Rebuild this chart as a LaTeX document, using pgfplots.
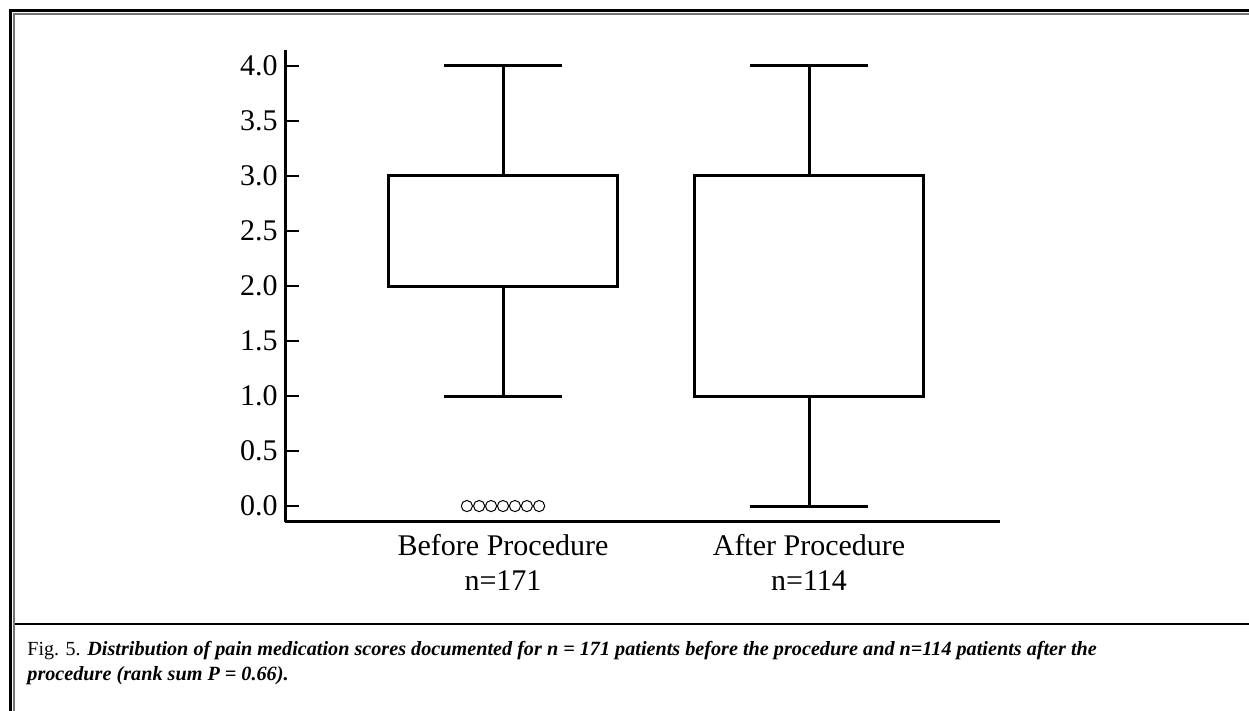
\documentclass[border=0pt]{standalone}
\usepackage{fontspec}
\setmainfont{Liberation Serif}
\usepackage{pgfplots}
\pgfplotsset{compat=1.18}
\usepgfplotslibrary{statistics}

% 1 px of the reference = 0.5pt
\begin{document}
\begin{tikzpicture}
\useasboundingbox (0,0) rectangle (624.5pt,-355.5pt);

% frame
\draw[black, line width=1.5pt] (5.25pt,-355.5pt) -- (5.25pt,-5.25pt) -- (624.5pt,-5.25pt);
\draw[black!55, line width=1pt] (6.9pt,-355.5pt) -- (6.9pt,-6.9pt) -- (624.5pt,-6.9pt);
\draw[black, line width=1.2pt] (7.4pt,-312pt) -- (624.5pt,-312pt);

\begin{axis}[
    at={(142.5pt,-261pt)}, anchor=south west,
    scale only axis,
    width=357.5pt, height=236pt,
    xmin=0.2876, xmax=2.624,
    ymin=-0.145, ymax=4.145,
    axis x line=bottom, axis y line=left,
    axis line style={line width=1.5pt, -},
    xtick={1,2},
    xticklabels={Before Procedure\\n=171, After Procedure\\n=114},
    major x tick style={draw=none},
    xticklabel style={align=center, inner sep=0pt, yshift=-6pt},
    ytick={0,0.5,...,4},
    /pgf/number format/fixed,
    /pgf/number format/fixed zerofill,
    /pgf/number format/precision=1,
    /pgf/number format/assume math mode=true,
    yticklabel style={inner sep=0pt, xshift=-3.5pt},
    tick align=inside,
    major tick length=7pt,
    major y tick style={line width=1.2pt, black},
    tick label style={font=\fontsize{15}{17.5}\selectfont},
    boxplot/draw direction=y,
    clip=false,
]
\addplot+[boxplot prepared={draw position=1, lower whisker=1, lower quartile=2,
    median=2, upper quartile=3, upper whisker=4, box extend=0.75, whisker extend=0.386},
    black, solid, line width=1.5pt, mark=none] coordinates {};
\addplot+[boxplot prepared={draw position=2, lower whisker=0, lower quartile=1,
    median=1, upper quartile=3, upper whisker=4, box extend=0.75, whisker extend=0.386},
    black, solid, line width=1.5pt, mark=none] coordinates {};
% zero scores before the procedure, drawn side by side
\addplot[only marks, mark=o, mark size=2.8pt, line width=0.5pt, black] coordinates {
    (0.882,0) (0.922,0) (0.961,0) (1.0,0) (1.039,0) (1.078,0) (1.118,0)};
\end{axis}

\node[anchor=base west, inner sep=0pt, font=\fontsize{10}{12}\selectfont] at (13.5pt,-327.5pt)
  {Fig. 5. \fontsize{10.1}{12}\selectfont\textbf{\textit{Distribution of pain medication scores documented for n = 171 patients before the procedure and n=114 patients after the}}};
\node[anchor=base west, inner sep=0pt, font=\fontsize{10.1}{12}\selectfont] at (13.5pt,-340pt)
  {\textbf{\textit{procedure (rank sum P = 0.66).}}};
\end{tikzpicture}
\end{document}
